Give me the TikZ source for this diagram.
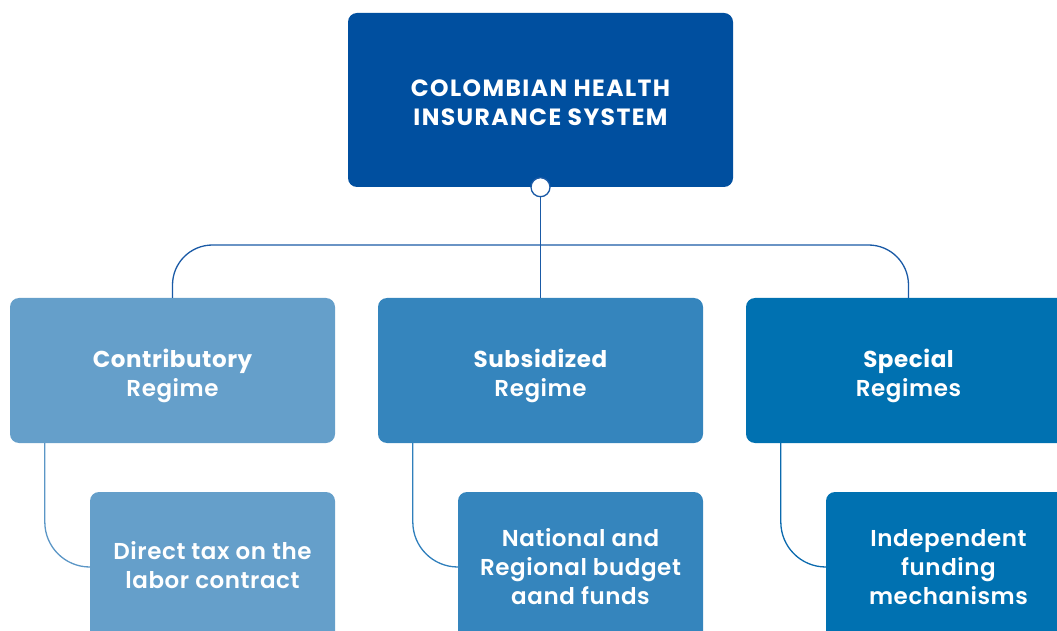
\documentclass[tikz,border=0pt]{standalone}
\usepackage{fontspec}
\setmainfont{Poppins}[UprightFont={Poppins SemiBold}, BoldFont={Poppins Bold}]
\definecolor{topblue}{HTML}{004F9F}
\definecolor{cA}{HTML}{659FCA}
\definecolor{cB}{HTML}{3585BD}
\definecolor{cC}{HTML}{0071B1}
\definecolor{lineTop}{HTML}{1A5AA6}
\definecolor{lA}{HTML}{5B96C6}
\definecolor{lB}{HTML}{2F7FBC}
\definecolor{lC}{HTML}{0B6AAE}
\tikzset{
  box/.style={rectangle, rounded corners=9pt, inner sep=0pt},
  lbl/.style={text=white, align=center, inner sep=0pt,
    font=\fontsize{23}{29}\selectfont\addfontfeatures{LetterSpace=2.5}},
  toplbl/.style={lbl, font=\fontsize{23.5}{29}\selectfont\addfontfeatures{LetterSpace=6}},
  topbox/.style={box, fill=topblue, minimum width=385pt, minimum height=174pt},
  midbox/.style={box, minimum width=325pt, minimum height=145pt},
  lowbox/.style={box, minimum width=245pt, minimum height=150pt},
  conn/.style={line width=1.3pt},
}
\begin{document}
\begin{tikzpicture}[x=1pt,y=1pt]
\useasboundingbox (0,0) rectangle (1057,630);
\clip (0,0) rectangle (1057,630);
\node[topbox, label={[toplbl, yshift=-3pt]center:{\bfseries COLOMBIAN HEALTH\\\bfseries INSURANCE SYSTEM}}] (top) at (540.5,530) {};
\node[midbox, fill=cA, label={[lbl, yshift=-5pt]center:{\bfseries Contributory\\Regime}}] (c1) at (172.5,259.5) {};
\node[midbox, fill=cB, label={[lbl, yshift=-5pt]center:{\bfseries Subsidized\\Regime}}] (c2) at (540.5,259.5) {};
\node[midbox, fill=cC, label={[lbl, yshift=-5pt]center:{\bfseries Special\\Regimes}}] (c3) at (908.5,259.5) {};
\node[lowbox, fill=cA, label={[lbl, yshift=2pt]center:{Direct tax on the\\labor contract}}] (d1) at (212.5,63) {};
\node[lowbox, fill=cB, label={[lbl]center:{National and\\Regional budget\\aand funds}}] (d2) at (580.5,63) {};
\node[lowbox, fill=cC, label={[lbl]center:{Independent\\funding\\mechanisms}}] (d3) at (948.5,63) {};
\coordinate (hub) at (540.5,385);
\draw[conn, lineTop, rounded corners=40pt] (c1.north) |- (hub) -| (c3.north);
\draw[conn, lineTop] (top.south) -- (c2.north);
\node[circle, draw=lineTop, fill=white, line width=1.3pt, minimum size=19pt, inner sep=0pt] (dot) at (top.south) {};
\draw[conn, lA, rounded corners=45pt] ([xshift=35pt]c1.south west) |- (d1.west);
\draw[conn, lB, rounded corners=45pt] ([xshift=35pt]c2.south west) |- (d2.west);
\draw[conn, lC, rounded corners=45pt] ([xshift=35pt]c3.south west) |- (d3.west);
\end{tikzpicture}
\end{document}
